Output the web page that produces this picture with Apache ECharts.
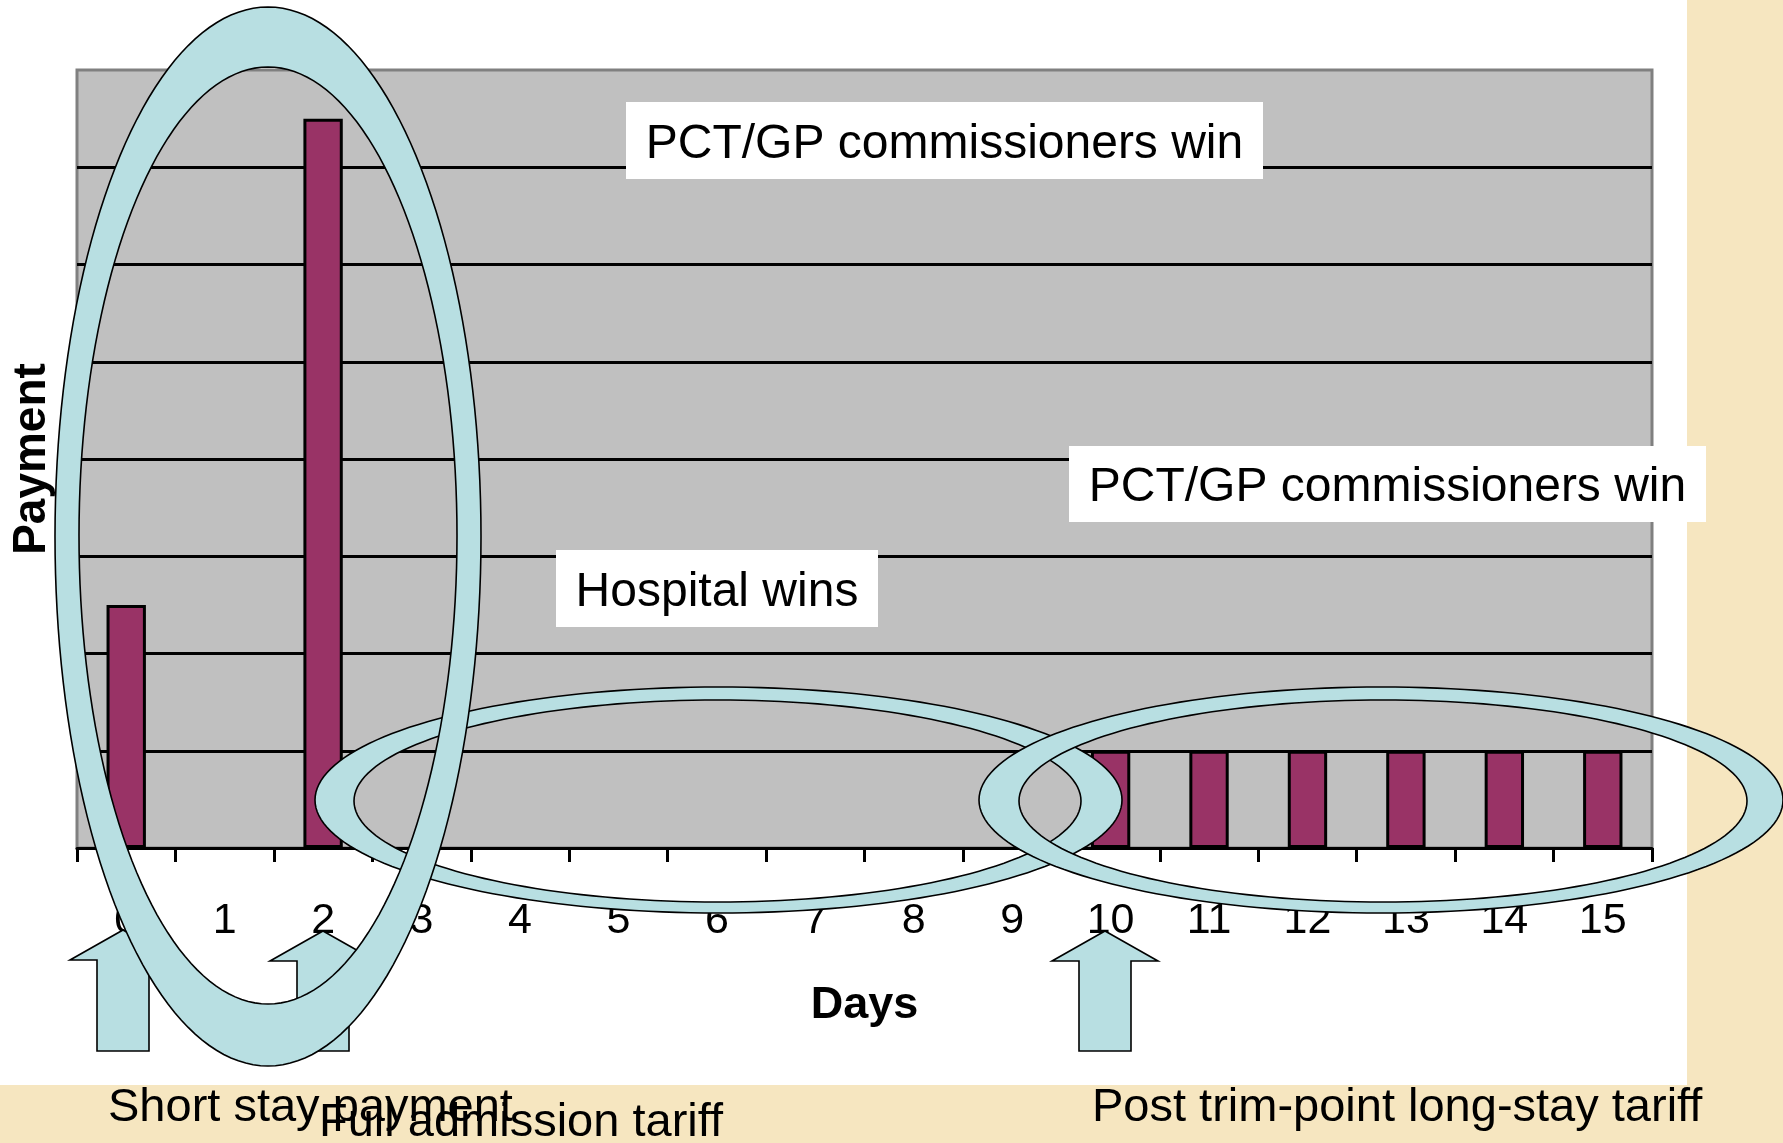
<!DOCTYPE html>
<html lang="en">
<head>
<meta charset="utf-8" />
<title>Payment by length of stay</title>
<script type="text/javascript" src="https://cdn.jsdelivr.net/npm/echarts@6.0.0/dist/echarts.min.js"></script>
<style>
    html, body { margin: 0; padding: 0; background: #f7e8c4; }
    #main { width: 1783px; height: 1143px; }
</style>
</head>
<body>
<div id="main"></div>
<script type="text/javascript">
    // days on the x axis, payment per day (y axis has no labels, 8 bands)
    var days = ['0', '1', '2', '3', '4', '5', '6', '7', '8', '9', '10', '11', '12', '13', '14', '15'];
    var payment = [2.5, null, 7.5, null, null, null, null, null, null, null, 1, 1, 1, 1, 1, 1];
    var yMax = 8;

    var FONT = 'Liberation Sans, Arial, sans-serif';
    var RING = '#b8dfe2';

    // points round an ellipse
    function ellPts(cx, cy, rx, ry, rev) {
        var pts = [];
        var n = 180;
        for (var i = 0; i <= n; i++) {
            var a = (rev ? (n - i) : i) / n * Math.PI * 2;
            pts.push([cx + rx * Math.cos(a), cy + ry * Math.sin(a)]);
        }
        return pts;
    }

    // ring = filled band + two outlines
    function ring(o, inr, z) {
        var fill = ellPts(o[0], o[1], o[2], o[3], false).concat(ellPts(inr[0], inr[1], inr[2], inr[3], true));
        return [
            { type: 'polygon', z: z, silent: true, shape: { points: fill }, style: { fill: RING, stroke: null } },
            { type: 'polygon', z: z, silent: true, shape: { points: ellPts(o[0], o[1], o[2], o[3]) }, style: { fill: 'none', stroke: '#000', lineWidth: 1.6 } },
            { type: 'polygon', z: z, silent: true, shape: { points: ellPts(inr[0], inr[1], inr[2], inr[3]) }, style: { fill: 'none', stroke: '#000', lineWidth: 1.6 } }
        ];
    }

    function arrow(tx, ty, z) {
        var hw = 53, hb = ty + 30, sw = 26, b = 1051;
        return {
            type: 'polygon', z: z, silent: true,
            shape: { points: [[tx, ty], [tx + hw, hb], [tx + sw, hb], [tx + sw, b], [tx - sw, b], [tx - sw, hb], [tx - hw, hb]] },
            style: { fill: RING, stroke: '#000', lineWidth: 1.6 }
        };
    }

    function box(x, y, w, h, txt) {
        return [
            { type: 'rect', z: 5, silent: true, shape: { x: x, y: y, width: w, height: h }, style: { fill: '#fff' } },
            { type: 'text', z: 6, silent: true, x: x + w / 2, y: y + h / 2 + 4,
              style: { text: txt, fill: '#000', font: '48px ' + FONT, align: 'center', verticalAlign: 'middle' } }
        ];
    }

    function label(x, y, txt) {
        return { type: 'text', z: 6, silent: true, x: x, y: y,
                 style: { text: txt, fill: '#000', font: '47px ' + FONT, align: 'left', verticalAlign: 'middle' } };
    }

    var graphics = [
        // white slide area, beige shows round it
        { type: 'rect', z: -10, silent: true, shape: { x: 0, y: 0, width: 1687, height: 1085 }, style: { fill: '#fff' } }
    ];
    graphics = graphics.concat(box(626, 102, 637, 77, 'PCT/GP commissioners win'));
    graphics = graphics.concat(box(1069, 446, 637, 76, 'PCT/GP commissioners win'));
    graphics = graphics.concat(box(556, 550, 322, 77, 'Hospital wins'));
    graphics.push(arrow(123, 930, 8));
    graphics.push(arrow(323, 931, 8));
    graphics.push(arrow(1105, 931, 8));
    graphics = graphics.concat(ring([718.5, 800, 403.5, 113], [717.5, 801, 363.5, 101], 10));
    graphics = graphics.concat(ring([1381, 800, 402, 113], [1383, 801, 364, 101], 11));
    graphics = graphics.concat(ring([268, 536.5, 213, 529.5], [268, 535.5, 189, 468.5], 12));
    graphics.push(label(108, 1108, 'Short stay payment'));
    graphics.push(label(319, 1123, 'Full admission tariff'));
    graphics.push(label(1092, 1108, 'Post trim-point long-stay tariff'));

    var myChart = echarts.init(document.getElementById('main'));
    myChart.setOption({
        backgroundColor: '#f6e6c0',
        animation: false,
        grid: {
            left: 77, top: 70, width: 1575, height: 778,
            show: true,
            backgroundColor: '#c0c0c0',
            borderColor: '#808080',
            borderWidth: 3
        },
        xAxis: {
            type: 'category',
            data: days,
            name: 'Days',
            nameLocation: 'middle',
            nameGap: 135,
            nameTextStyle: { fontFamily: FONT, fontSize: 45, fontWeight: 'bold', color: '#000' },
            axisLine: { show: true, lineStyle: { color: '#000', width: 3 } },
            axisTick: { show: true, inside: false, interval: 0, length: 14, lineStyle: { color: '#000', width: 3 } },
            axisLabel: { interval: 0, margin: 52, fontFamily: FONT, fontSize: 43, color: '#000' }
        },
        yAxis: {
            type: 'value',
            min: 0,
            max: yMax,
            interval: 1,
            name: 'Payment',
            nameLocation: 'middle',
            nameGap: 22,
            nameTextStyle: { fontFamily: FONT, fontSize: 46, fontWeight: 'bold', color: '#000' },
            axisLine: { show: false },
            axisTick: { show: false },
            axisLabel: { show: false },
            splitLine: { show: true, showMaxLine: false, lineStyle: { color: '#000', width: 3 } }
        },
        series: [
            {
                name: 'Payment',
                type: 'bar',
                data: payment,
                barWidth: '40%',
                itemStyle: { color: '#993366', borderColor: '#000', borderWidth: 3 }
            }
        ],
        graphic: graphics
    });
</script>
</body>
</html>
